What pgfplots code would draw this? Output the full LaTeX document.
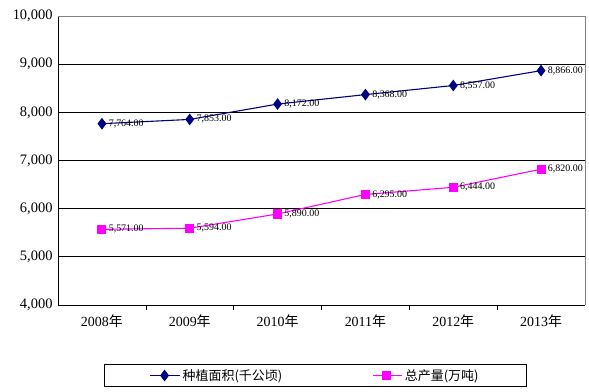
\documentclass[border=0pt]{standalone}
\usepackage{pgfplots}
\pgfplotsset{compat=1.18}
\usepackage{fontspec}
\setmainfont{Liberation Serif}
\newfontfamily\cjk{Noto Sans CJK SC}
\definecolor{navyc}{RGB}{0,0,128}
\definecolor{magc}{RGB}{255,0,255}
\begin{document}
\begin{tikzpicture}
\useasboundingbox (0,0) rectangle (589bp,392bp);
\begin{axis}[
  at={(58bp,87bp)}, anchor=south west,
  scale only axis, width=527bp, height=289bp,
  xmin=-0.5, xmax=5.5, ymin=4000, ymax=10000,
  scaled ticks=false,
  xtick={0,...,5},
  xticklabels={2008{\cjk 年},2009{\cjk 年},2010{\cjk 年},2011{\cjk 年},2012{\cjk 年},2013{\cjk 年}},
  minor xtick={0.5,1.5,2.5,3.5,4.5},
  ytick={4000,5000,...,10000},
  major tick length=0pt, minor tick length=5bp, tick align=outside,
  minor tick style={black, line width=0.6pt},
  axis x line*=bottom, axis y line*=left,
  axis line style={black, line width=0.8pt, -},
  ymajorgrids, grid style={black, line width=0.8pt},
  /pgf/number format/assume math mode=true,
  /pgf/number format/1000 sep={,},
  yticklabel style={font=\fontsize{14.5}{16}\selectfont, xshift=-2bp},
  xticklabel style={font=\fontsize{14}{16}\selectfont, yshift=-6bp},
  legend style={at={(0.488,-0.244)}, anchor=center, draw=black, line width=0.6pt,
    legend columns=2, font=\cjk\fontsize{13}{15}\selectfont,
    /tikz/every even column/.append style={column sep=88bp},
    inner xsep=46bp, inner ysep=3bp},
  legend image code/.code={\draw[mark repeat=2,mark phase=2] plot coordinates {(0cm,0cm)(0.5cm,0cm)(1.05cm,0cm)};},
  nodes near coords,
  every node near coord/.append style={font=\fontsize{10}{11}\selectfont, anchor=west, xshift=3bp, text=black,
    /pgf/number format/.cd, fixed, fixed zerofill, precision=2, 1000 sep={,}, assume math mode=true},
  clip=false,
]
\addplot[color=navyc, line width=1.1pt, mark=diamond*, mark size=5bp, mark options={fill=navyc, draw=navyc}]
  coordinates {(0,7764) (1,7853) (2,8172) (3,8368) (4,8557) (5,8866)};
\addlegendentry{种植面积(千公顷)}
\addplot[color=magc, line width=1.1pt, mark=square*, mark size=4bp, mark options={fill=magc, draw=magc}]
  coordinates {(0,5571) (1,5594) (2,5890) (3,6295) (4,6444) (5,6820)};
\addlegendentry{总产量(万吨)}
\draw[gray, line width=0.8pt] (rel axis cs:0,1) -- (rel axis cs:1,1) -- (rel axis cs:1,0);
\end{axis}
\end{tikzpicture}
\end{document}
